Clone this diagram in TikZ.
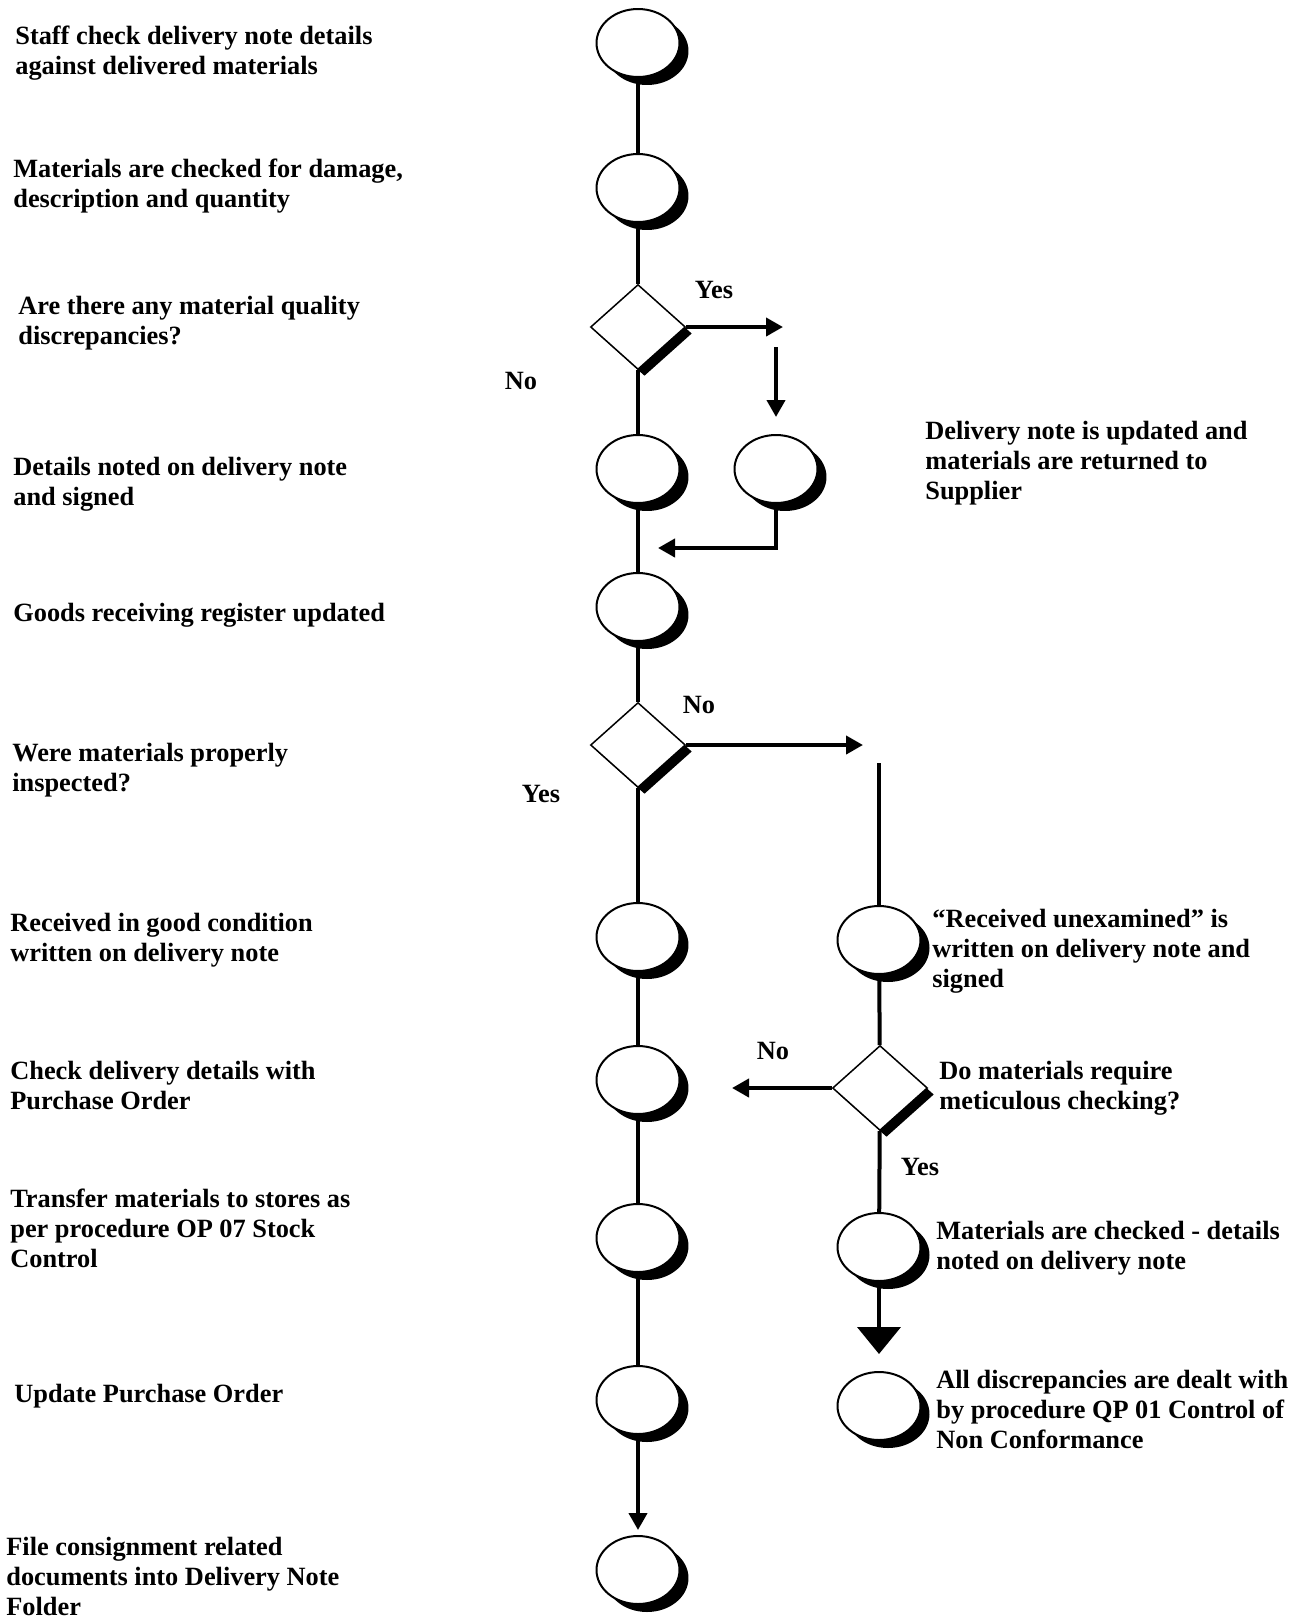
\documentclass[tikz,border=0pt]{standalone}
\usepackage{fontspec}
\setmainfont{Liberation Serif}
\usetikzlibrary{shapes.geometric,shadows,arrows.meta}

\begin{document}
\begin{tikzpicture}[x=0.02cm,y=-0.02cm,
    stepnode/.style={ellipse,draw,line width=0.04cm,fill=white,minimum width=1.66cm,minimum height=1.36cm,inner sep=0pt,
      drop shadow={shadow xshift=0.18cm,shadow yshift=-0.16cm,fill=black,opacity=1}},
    asknode/.style={diamond,draw,line width=0.03cm,fill=white,minimum width=1.9cm,minimum height=1.7cm,inner sep=0pt,
      drop shadow={shadow xshift=0.13cm,shadow yshift=-0.13cm,fill=black,opacity=1}},
    lbl/.style={anchor=north west,align=left,inner sep=0pt,font=\bfseries\fontsize{15}{17.07}\selectfont},
    yn/.style={inner sep=0pt,font=\bfseries\fontsize{15}{17.07}\selectfont},
    flow/.style={line width=0.08cm},
    flowarrow/.style={-{Triangle[length=0.34cm,width=0.36cm]}},
    bigarrow/.style={-{Triangle[length=0.54cm,width=0.86cm]}}]
    \useasboundingbox (0,0) rectangle (1297,1616);

    % main column
    \node[stepnode] (chk) at (638,43) {};
    \node[stepnode] (dmg) at (638,188) {};
    \node[asknode] (qd) at (638,327) {};
    \node[stepnode] (noted) at (638,469) {};
    \node[stepnode] (reg) at (638,607) {};
    \node[asknode] (insp) at (638,745) {};
    \node[stepnode] (good) at (638,937) {};
    \node[stepnode] (po) at (638,1080) {};
    \node[stepnode] (stores) at (638,1238) {};
    \node[stepnode] (upd) at (638,1400) {};
    \node[stepnode] (file) at (638,1570) {};
    % side branches
    \node[stepnode] (ret) at (776,469) {};
    \node[stepnode] (unex) at (879,940) {};
    \node[asknode] (meti) at (880,1088) {};
    \node[stepnode] (detl) at (879,1247) {};
    \node[stepnode] (ncr) at (879,1406) {};

    \draw[flow] (chk)--(dmg);
    \draw[flow] (dmg)--(qd);
    \draw[flow] (qd)--(noted);
    \draw[flow] (noted)--(reg);
    \draw[flow] (reg)--(insp);
    \draw[flow] (insp)--(good);
    \draw[flow] (good)--(po);
    \draw[flow] (po)--(stores);
    \draw[flow] (stores)--(upd);
    \draw[flow,flowarrow,shorten >=0.1cm] (upd)--(file);

    \coordinate (qdyes) at (783,327);
    \coordinate (retin) at (776,347);
    \coordinate (backin) at (658,548);
    \draw[flow,flowarrow] (qd.east)--(qdyes);
    \draw[flow,flowarrow,shorten >=0.34cm] (retin)--(retin |- ret.north);
    \draw[flow,flowarrow] (ret.south) |- (backin);

    \coordinate (inspno) at (863,745);
    \coordinate (unexin) at (879,763);
    \coordinate (metino) at (732,1088);
    \draw[flow,flowarrow] (insp.east)--(inspno);
    \draw[flow] (unexin)--(unex);
    \draw[flow] (unex)--(meti);
    \draw[flow,flowarrow] (meti.west)--(metino);
    \draw[flow] (meti)--(detl);
    \draw[flow,bigarrow,shorten >=0.34cm] (detl)--(ncr);

    % texts on the left
    \draw (15,26) node[lbl] (tchk) {Staff check delivery note details\\against delivered materials};
    \draw (13,159) node[lbl] (tdmg) {Materials are checked for damage,\\description and quantity};
    \draw (18,296) node[lbl] (tqd) {Are there any material quality\\discrepancies?};
    \draw (13,457) node[lbl] (tnoted) {Details noted on delivery note\\and signed};
    \draw (13,603) node[lbl] (treg) {Goods receiving register updated};
    \draw (12,743) node[lbl] (tinsp) {Were materials properly\\inspected?};
    \draw (10,913) node[lbl] (tgood) {Received in good condition\\written on delivery note};
    \draw (10,1061) node[lbl] (tpo) {Check delivery details with\\Purchase Order};
    \draw (10,1189) node[lbl] (tstores) {Transfer materials to stores as\\per procedure OP 07 Stock\\Control};
    \draw (14,1384) node[lbl] (tupd) {Update Purchase Order};
    \draw (6,1537) node[lbl] (tfile) {File consignment related\\documents into Delivery Note\\Folder};
    % texts on the right
    \draw (925,421) node[lbl] (tret) {Delivery note is updated and\\materials are returned to\\Supplier};
    \draw (932,909) node[lbl] (tunex) {“Received unexamined” is\\written on delivery note and\\signed};
    \draw (939,1061) node[lbl] (tmeti) {Do materials require\\meticulous checking?};
    \draw (936,1221) node[lbl] (tdetl) {Materials are checked - details\\noted on delivery note};
    \draw (936,1370) node[lbl] (tncr) {All discrepancies are dealt with\\by procedure QP 01 Control of\\Non Conformance};

    % yes / no
    \draw (714,290) node[yn] (qdy) {Yes};
    \draw (521,381) node[yn] (qdn) {No};
    \draw (699,705) node[yn] (inspn) {No};
    \draw (541,794) node[yn] (inspy) {Yes};
    \draw (773,1051) node[yn] (metin) {No};
    \draw (920,1167) node[yn] (metiy) {Yes};
\end{tikzpicture}
\end{document}
